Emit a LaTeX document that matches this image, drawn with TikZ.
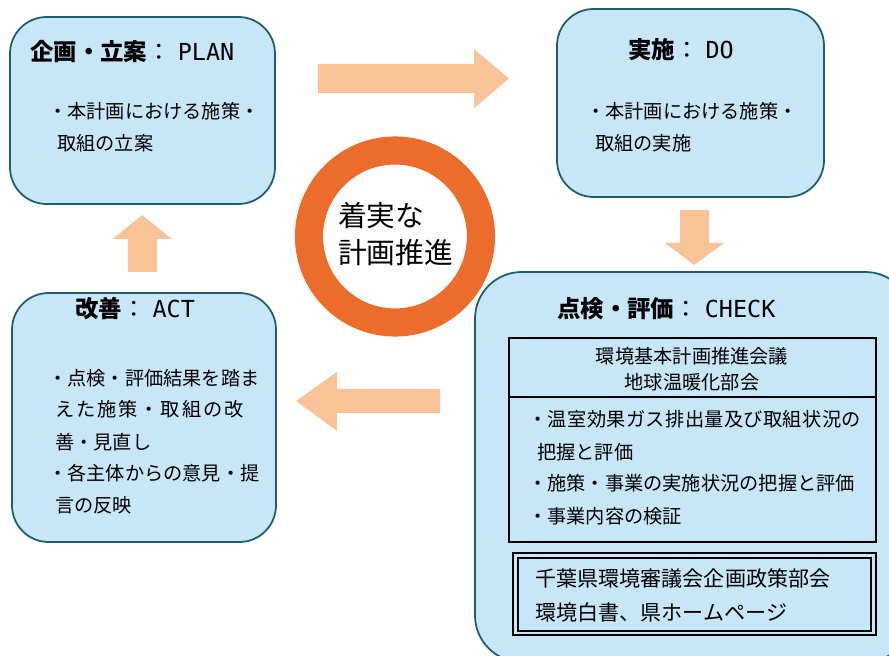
\documentclass[tikz,border=0pt]{standalone}
\usepackage{fontspec}
\setmainfont{Noto Sans CJK JP}
\newfontfamily\latinmono{DejaVu Sans Mono}
\definecolor{stageblue}{RGB}{199,230,247}
\definecolor{stageline}{RGB}{28,94,110}
\definecolor{flowarrow}{RGB}{248,195,150}
\definecolor{ringorange}{RGB}{235,108,43}
\begin{document}
\begin{tikzpicture}[x=0.03cm,y=-0.03cm,
    stage/.style={draw=stageline, fill=stageblue, line width=1.5pt, rounded corners=1.1cm},
    stagetitle/.style={anchor=west, inner sep=0pt, font=\fontsize{20}{22}\selectfont},
    bodytext/.style={anchor=west, inner sep=0pt, font=\fontsize{16.4}{18}\selectfont},
    reporttext/.style={anchor=west, inner sep=0pt, font=\fontsize{18}{20}\selectfont},
    ringtext/.style={anchor=west, inner sep=0pt, font=\fontsize{24.5}{26}\selectfont}]
    \useasboundingbox (0,0) rectangle (889,656);

    % 四个阶段的圆角框
    \draw[stage] (10,17) rectangle (275,204);   % PLAN
    \draw[stage] (557,9) rectangle (824,197);   % DO
    \draw[stage] (12,293) rectangle (276,542);  % ACT
    \draw[stage, rounded corners=1.4cm] (475,272) rectangle (912,662); % CHECK

    % 阶段之间的箭头
    \fill[flowarrow] (318,64) -- (474,64) -- (474,49) -- (509,78.5) -- (474,108) -- (474,93) -- (318,93) -- cycle; % 向右
    \fill[flowarrow] (680,210) -- (709,210) -- (709,243) -- (724,243) -- (694,265) -- (665,243) -- (680,243) -- cycle; % 向下
    \fill[flowarrow] (440,389) -- (337,389) -- (337,372) -- (296,401) -- (337,431) -- (337,413) -- (440,413) -- cycle; % 向左
    \fill[flowarrow] (128,272) -- (128,239) -- (113,239) -- (142,215) -- (172,239) -- (157,239) -- (157,272) -- cycle; % 向上

    % 中间的圆环
    \draw[ringorange, line width=24pt] (395,236.5) circle[radius=86];
    \node[ringtext] (ring1) at (338,216) {着実な};
    \node[ringtext] (ring2) at (338,253) {計画推進};

    % PLAN
    \node[stagetitle] (plantitle) at (30,52) {{\bfseries 企画・立案}：\hspace{6pt}{\latinmono PLAN}};
    \node[bodytext] (plan1) at (48,111) {・本計画における施策・};
    \node[bodytext] (plan2) at (57,143) {取組の立案};

    % DO
    \node[stagetitle] (dotitle) at (628,50) {{\bfseries 実施}：\hspace{6pt}{\latinmono DO}};
    \node[bodytext] (do1) at (586,111) {・本計画における施策・};
    \node[bodytext] (do2) at (595,143) {取組の実施};

    % ACT
    \node[stagetitle] (acttitle) at (75,309) {{\bfseries 改善}：\hspace{6pt}{\latinmono ACT}};
    \foreach \i/\x/\y/\t in {1/48/378/{・点検・評価結果を踏ま},
                             2/55/409/{\addfontfeature{LetterSpace=10}えた施策・取組の改},
                             3/55/442/{善・見直し},
                             4/48/473/{・各主体からの意見・提},
                             5/55/505/{言の反映}} {
        \node[bodytext] (act\i) at (\x,\y) {\t};
    }

    % CHECK
    \node[stagetitle] (chktitle) at (557,309) {{\bfseries 点検・評価}：\hspace{6pt}{\latinmono CHECK}};
    \draw[line width=1.5pt] (509,338) rectangle (876,542);
    \draw[line width=1.5pt] (509,397) -- (876,397);
    \node[bodytext, anchor=center] (meeting1) at (692,356) {環境基本計画推進会議};
    \node[bodytext, anchor=center] (meeting2) at (692,382) {地球温暖化部会};
    \node[bodytext] (chk1) at (528,419) {{\addfontfeature{LetterSpace=2}・温室効果ガス排出量及び取組状況の}};
    \node[bodytext] (chk2) at (537,452) {把握と評価};
    \node[bodytext] (chk3) at (528,483) {・施策・事業の実施状況の把握と評価};
    \node[bodytext] (chk4) at (528,516) {・事業内容の検証};

    % 报告（双线框）
    \draw[line width=1.5pt] (513,553) rectangle (876,635);
    \draw[line width=1.5pt] (518,558) rectangle (871,631);
    \node[reporttext] (report1) at (535,579) {千葉県環境審議会企画政策部会};
    \node[reporttext] (report2) at (535,612) {環境白書、県ホームページ};
\end{tikzpicture}
\end{document}
